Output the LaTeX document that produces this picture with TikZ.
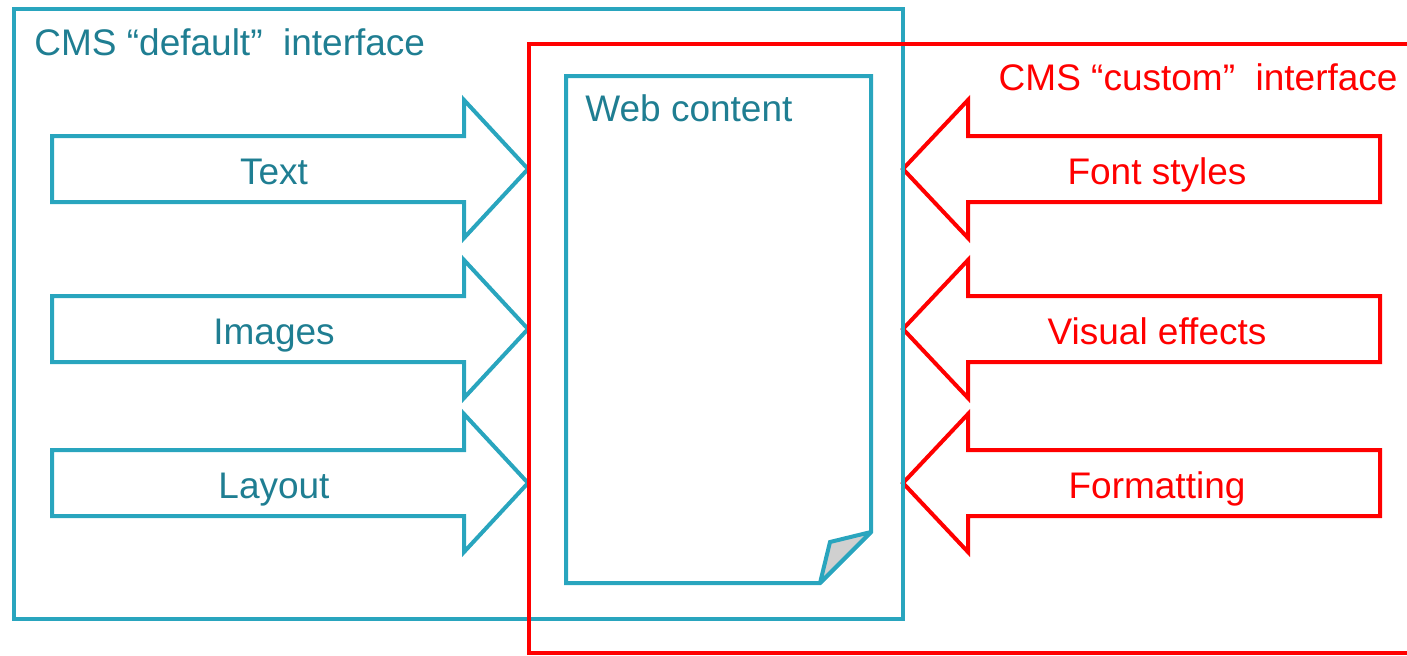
\documentclass[tikz,border=0pt]{standalone}
\usepackage{fontspec}
\setmainfont{Liberation Sans}
\definecolor{cmsline}{RGB}{41,165,190}
\definecolor{cmstext}{RGB}{31,126,146}
\definecolor{cmsred}{RGB}{255,0,0}
\definecolor{foldgray}{RGB}{208,208,208}

\begin{document}
\begin{tikzpicture}[x=0.5pt,y=-0.5pt,line join=miter,
		blueline/.style={draw=cmsline,line width=2pt},
		redline/.style={draw=cmsred,line width=2pt},
		bluelbl/.style={text=cmstext,font=\fontsize{18.5}{22}\selectfont,inner sep=0pt},
		redlbl/.style={text=cmsred,font=\fontsize{18.5}{22}\selectfont,inner sep=0pt}]
			\useasboundingbox (0,0) rectangle (1407,655);
			\clip (0,0) rectangle (1407,655);
			\foreach \y/\lbl/\nm in {169/Text/text,329/Images/images,483/Layout/layout}{
				\draw[blueline] (52,\y-33) -- (464,\y-33) -- (464,\y-69) -- (528,\y) -- (464,\y+69) -- (464,\y+33) -- (52,\y+33) -- cycle;
				\node[bluelbl,anchor=base] (\nm) at (274,\y+15) {\lbl};
			}
			\foreach \y/\lbl/\nm in {169/Font styles/fonts,329/Visual effects/effects,483/Formatting/formatting}{
				\draw[redline] (1380,\y-33) -- (968,\y-33) -- (968,\y-69) -- (903,\y) -- (968,\y+69) -- (968,\y+33) -- (1380,\y+33) -- cycle;
				\node[redlbl,anchor=base] (\nm) at (1157,\y+15) {\lbl};
			}
			\draw[blueline,miter limit=2] (566,76) -- (871,76) -- (871,532) -- (820,583) -- (566,583) -- cycle;
			\draw[blueline,miter limit=2,fill=foldgray] (871,532) -- (830,542) -- (820,583) -- cycle;
			\node[bluelbl,anchor=base west] (web) at (585,121) {Web content};
			\draw[blueline] (14,9) rectangle (903,619);
			\node[bluelbl,anchor=base west] (default) at (34,55) {CMS “default”~~interface};
			\draw[redline] (1420,44) -- (529,44) -- (529,653) -- (1420,653);
			\node[redlbl,anchor=base east] (custom) at (1398,90) {CMS “custom”~~interface};
	\end{tikzpicture}
\end{document}
